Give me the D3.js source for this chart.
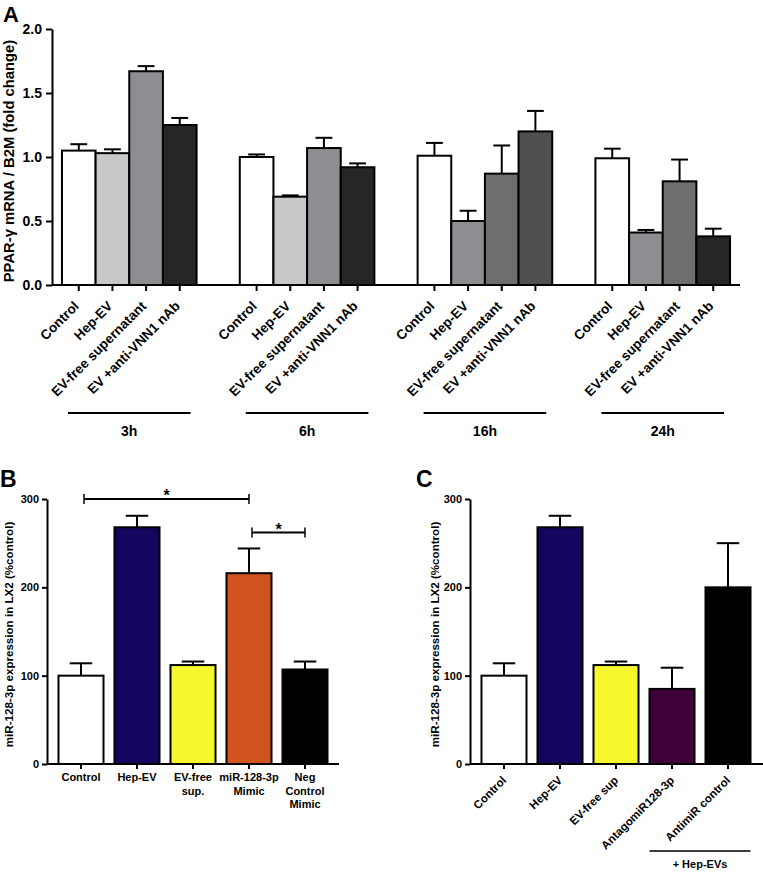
<!DOCTYPE html>
<html><head><meta charset="utf-8">
<script src="https://cdn.jsdelivr.net/npm/d3@7"></script>
<style>
body{margin:0;background:#fff;}
text{font-family:"Liberation Sans",Arial,Helvetica,sans-serif;font-weight:bold;fill:#000;}
</style></head>
<body><svg id="chart" width="763" height="872"></svg>
<script>
// ---------- Panel A data ----------
const groupsA = ["3h", "6h", "16h", "24h"];
const treatmentsA = ["Control", "Hep-EV", "EV-free supernatant", "EV +anti-VNN1 nAb"];
const meansA = [
  [1.05, 1.03, 1.67, 1.25],
  [1.00, 0.69, 1.07, 0.92],
  [1.01, 0.50, 0.87, 1.20],
  [0.99, 0.41, 0.81, 0.38]
];
const semA = [
  [0.05, 0.03, 0.04, 0.055],
  [0.02, 0.01, 0.08, 0.03],
  [0.10, 0.08, 0.22, 0.16],
  [0.075, 0.02, 0.17, 0.06]
];
const colorsA = [
  ["#ffffff", "#c8c8c8", "#8e8e92", "#262626"],
  ["#ffffff", "#c8c8c8", "#8e8e92", "#262626"],
  ["#ffffff", "#8e8e92", "#6e6e6e", "#505050"],
  ["#ffffff", "#8e8e92", "#6e6e6e", "#262626"]
];
const ticksA = [0, 0.5, 1.0, 1.5, 2.0];
const yLabelA = "PPAR-\u03B3 mRNA / B2M (fold change)";

// ---------- Panel B data ----------
const labelsB = [["Control"], ["Hep-EV"], ["EV-free", "sup."], ["miR-128-3p", "Mimic"], ["Neg", "Control", "Mimic"]];
const meansB = [100, 268, 112, 216, 107];
const semB = [14, 13, 4, 28, 9];
const colorsB = ["#ffffff", "#12065e", "#f7f72e", "#d1531e", "#000000"];
const sigB = [[0, 3, 300], [3, 4, 262]]; // from index, to index, y value
const ticksBC = [0, 100, 200, 300];
const yLabelBC = "miR-128-3p expression in LX2 (%control)";

// ---------- Panel C data ----------
const labelsC = ["Control", "Hep-EV", "EV-free sup", "AntagomiR128-3p", "AntimiR control"];
const meansC = [100, 268, 112, 85, 200];
const semC = [14, 13, 4, 24, 50];
const colorsC = ["#ffffff", "#12065e", "#f7f72e", "#3e0038", "#000000"];
const bracketC = { from: 3, to: 4, label: "+ Hep-EVs" };

const svg = d3.select("#chart");

function errBar(g, x, bw, yTop, yErr) {
  g.append("line").attr("x1", x + bw / 2).attr("x2", x + bw / 2)
    .attr("y1", yTop).attr("y2", yErr).attr("stroke", "#000").attr("stroke-width", 2);
  g.append("line").attr("x1", x + bw / 4).attr("x2", x + bw * 3 / 4)
    .attr("y1", yErr).attr("y2", yErr).attr("stroke", "#000").attr("stroke-width", 2);
}

function styleAxis(sel, fs) {
  sel.selectAll("path.domain").attr("stroke", "#000").attr("stroke-width", 2);
  sel.selectAll(".tick line").attr("stroke", "#000").attr("stroke-width", 2);
  sel.selectAll(".tick text").attr("font-size", fs).attr("font-family", '"Liberation Sans",Arial,sans-serif')
    .attr("font-weight", "bold").attr("fill", "#000");
}

// ================= Panel A =================
(function () {
  const x0 = 52, x1 = 740, y0 = 285, y1 = 29;
  const y = d3.scaleLinear().domain([0, 2]).range([y0, y1]);
  const gx = d3.scaleBand().domain(groupsA).range([x0, x1]).paddingInner(0.243).paddingOuter(0.056);
  const bx = d3.scaleBand().domain(treatmentsA).range([0, gx.bandwidth()]).padding(0);
  const g = svg.append("g");

  svg.append("text").attr("x", 3).attr("y", 22).attr("font-size", 22).text("A");

  groupsA.forEach((grp, gi) => {
    treatmentsA.forEach((t, ti) => {
      const x = gx(grp) + bx(t), bw = bx.bandwidth();
      const v = meansA[gi][ti];
      errBar(g, x, bw, y(v), y(v + semA[gi][ti]));
      g.append("rect").attr("x", x).attr("y", y(v)).attr("width", bw).attr("height", y(0) - y(v))
        .attr("fill", colorsA[gi][ti]).attr("stroke", "#000").attr("stroke-width", 2);
      const cx = x + bw / 2;
      g.append("line").attr("x1", cx).attr("x2", cx).attr("y1", y0).attr("y2", y0 + 6)
        .attr("stroke", "#000").attr("stroke-width", 2);
      g.append("text").attr("transform", `translate(${cx + 1},${y0 + 22}) rotate(-45)`)
        .attr("text-anchor", "end").attr("font-size", 13.5).text(t);
    });
    const gs = gx(grp), ge = gx(grp) + gx.bandwidth();
    g.append("line").attr("x1", gs + 6).attr("x2", ge - 6).attr("y1", 413).attr("y2", 413)
      .attr("stroke", "#000").attr("stroke-width", 2);
    g.append("text").attr("x", (gs + ge) / 2).attr("y", 436).attr("text-anchor", "middle")
      .attr("font-size", 14).text(grp);
  });

  g.append("line").attr("x1", x0).attr("x2", x1).attr("y1", y0).attr("y2", y0)
    .attr("stroke", "#000").attr("stroke-width", 2);
  const ya = g.append("g").attr("transform", `translate(${x0},0)`)
    .call(d3.axisLeft(y).tickValues(ticksA).tickFormat(d3.format(".1f")).tickSize(6).tickSizeOuter(0).tickPadding(4));
  styleAxis(ya, 14);
  g.append("text").attr("transform", `translate(14,${(y0 + y1) / 2 + 4}) rotate(-90)`)
    .attr("text-anchor", "middle").attr("font-size", 14.8).text(yLabelA);
})();

// ================= Panel B =================
(function () {
  const x0 = 47, x1 = 339, y0 = 764, y1 = 499;
  const y = d3.scaleLinear().domain([0, 300]).range([y0, y1]);
  const x = d3.scaleBand().domain(d3.range(meansB.length)).range([x0, x1]).paddingInner(0.196).paddingOuter(0.205);
  const g = svg.append("g");
  svg.append("text").attr("x", 0).attr("y", 487).attr("font-size", 23).text("B");

  meansB.forEach((v, i) => {
    const bx = x(i), bw = x.bandwidth();
    errBar(g, bx, bw, y(v), y(v + semB[i]));
    g.append("rect").attr("x", bx).attr("y", y(v)).attr("width", bw).attr("height", y(0) - y(v))
      .attr("fill", colorsB[i]).attr("stroke", "#000").attr("stroke-width", 2);
    const cx = bx + bw / 2;
    g.append("line").attr("x1", cx).attr("x2", cx).attr("y1", y0).attr("y2", y0 + 5)
      .attr("stroke", "#000").attr("stroke-width", 2);
    labelsB[i].forEach((ln, li) => {
      g.append("text").attr("x", cx).attr("y", 781 + li * 13.5).attr("text-anchor", "middle")
        .attr("font-size", 11).text(ln);
    });
  });
  g.append("line").attr("x1", x0).attr("x2", x1).attr("y1", y0).attr("y2", y0)
    .attr("stroke", "#000").attr("stroke-width", 2);
  const ya = g.append("g").attr("transform", `translate(${x0},0)`)
    .call(d3.axisLeft(y).tickValues(ticksBC).tickFormat(d3.format("d")).tickSize(5).tickSizeOuter(0).tickPadding(3));
  styleAxis(ya, 11);
  g.append("text").attr("transform", `translate(13,${(y0 + y1) / 2 + 3}) rotate(-90)`)
    .attr("text-anchor", "middle").attr("font-size", 11.6).text(yLabelBC);

  sigB.forEach(([a, b, v]) => {
    const xa = x(a) + x.bandwidth() / 2 + 3, xb = x(b) + x.bandwidth() / 2;
    const yy = y(v);
    g.append("line").attr("x1", xa).attr("x2", xb).attr("y1", yy).attr("y2", yy).attr("stroke", "#000").attr("stroke-width", 2);
    [xa, xb].forEach(xx => g.append("line").attr("x1", xx).attr("x2", xx).attr("y1", yy - 5).attr("y2", yy + 5)
      .attr("stroke", "#000").attr("stroke-width", 1.5));
    g.append("text").attr("x", (xa + xb) / 2).attr("y", yy + 2).attr("text-anchor", "middle")
      .attr("font-size", 16).text("*");
  });
})();

// ================= Panel C =================
(function () {
  const x0 = 470, x1 = 763, y0 = 764, y1 = 499;
  const y = d3.scaleLinear().domain([0, 300]).range([y0, y1]);
  const x = d3.scaleBand().domain(d3.range(meansC.length)).range([x0, x1 - 1]).paddingInner(0.196).paddingOuter(0.205);
  const g = svg.append("g");
  svg.append("text").attr("x", 416).attr("y", 487).attr("font-size", 23).text("C");

  meansC.forEach((v, i) => {
    const bx = x(i), bw = x.bandwidth();
    errBar(g, bx, bw, y(v), y(v + semC[i]));
    g.append("rect").attr("x", bx).attr("y", y(v)).attr("width", bw).attr("height", y(0) - y(v))
      .attr("fill", colorsC[i]).attr("stroke", "#000").attr("stroke-width", 2);
    const cx = bx + bw / 2;
    g.append("line").attr("x1", cx).attr("x2", cx).attr("y1", y0).attr("y2", y0 + 5)
      .attr("stroke", "#000").attr("stroke-width", 2);
    g.append("text").attr("transform", `translate(${cx + 3},${y0 + 17}) rotate(-45)`)
      .attr("text-anchor", "end").attr("font-size", 11.5).text(labelsC[i]);
  });
  g.append("line").attr("x1", x0).attr("x2", x1).attr("y1", y0).attr("y2", y0)
    .attr("stroke", "#000").attr("stroke-width", 2);
  const ya = g.append("g").attr("transform", `translate(${x0},0)`)
    .call(d3.axisLeft(y).tickValues(ticksBC).tickFormat(d3.format("d")).tickSize(5).tickSizeOuter(0).tickPadding(3));
  styleAxis(ya, 11);
  g.append("text").attr("transform", `translate(439,${(y0 + y1) / 2 + 3}) rotate(-90)`)
    .attr("text-anchor", "middle").attr("font-size", 11.6).text(yLabelBC);

  const xa = x(bracketC.from), xb = x(bracketC.to) + x.bandwidth();
  g.append("line").attr("x1", xa).attr("x2", xb).attr("y1", 851).attr("y2", 851).attr("stroke", "#000").attr("stroke-width", 1.5);
  g.append("text").attr("x", (xa + xb) / 2).attr("y", 868).attr("text-anchor", "middle").attr("font-size", 11).text(bracketC.label);
})();
</script></body></html>
